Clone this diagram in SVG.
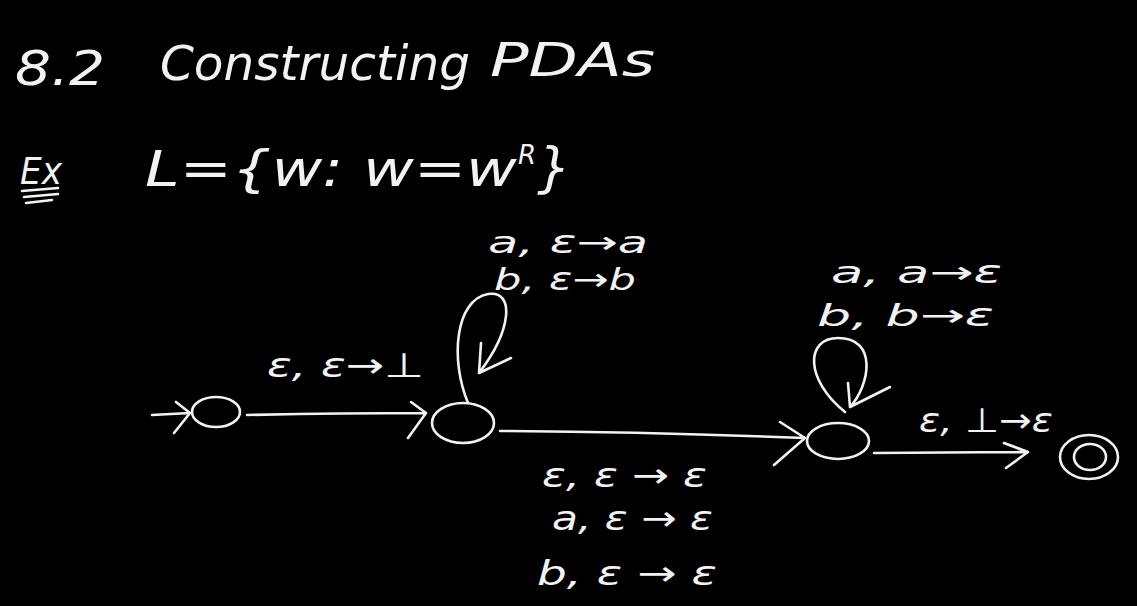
<svg xmlns="http://www.w3.org/2000/svg" width="1137" height="606" viewBox="0 0 1137 606">
<defs>
<style>
.bg{fill:#000}
.t{fill:#f2f2f2;font-family:"DejaVu Sans","Liberation Sans",sans-serif;font-style:italic;font-weight:300}
.lbl{font-size:34px}
.sm{font-size:31px}
.st{fill:none;stroke:#f2f2f2;stroke-width:2.6;stroke-linecap:round;stroke-linejoin:round}
</style>
</defs>
<rect class="bg" x="0" y="0" width="1137" height="606"/>
<g id="title">
<text class="t" x="15" y="85" font-size="48" textLength="90" lengthAdjust="spacingAndGlyphs">8.2</text>
<text class="t" x="160" y="80" font-size="48" textLength="310" lengthAdjust="spacingAndGlyphs">Constructing</text>
<text class="t" x="490" y="76" font-size="46" textLength="165" lengthAdjust="spacingAndGlyphs">PDAs</text>
</g>
<g id="example">
<text class="t" x="20" y="184" font-size="38" textLength="42" lengthAdjust="spacingAndGlyphs">Ex</text>
<path class="st" d="M22 191 L58 188 M24 197 L58 194 M26 203 L52 200" stroke-width="2"/>
<text class="t" x="145" y="186" font-size="50" textLength="372" lengthAdjust="spacingAndGlyphs">L={w:  w=w</text>
<text class="t" x="518" y="164" font-size="26">R</text>
<text class="t" x="537" y="186" font-size="54">}</text>
</g>
<g id="connectors">
<path class="st" d="M152 415 L190 413 M176 402 L190 413 L174 433"/>
<path class="st" d="M247 415 Q340 413 426 413 M411 402 L426 413 L408 438"/>
<path class="st" d="M500 431 Q650 432 805 438 M780 422 L805 438 L774 465"/>
<path class="st" d="M874 453 L1028 452 M1004 443 L1028 452 L1006 468"/>
<path class="st" d="M468 403 C450 360 455 300 488 294 C515 290 512 330 479 373 M481 343 L479 373 L511 358"/>
<path class="st" d="M845 412 C805 380 805 338 838 338 C878 338 870 385 850 407 M848 383 L850 407 L890 387"/>
</g>
<g id="q0"><ellipse class="st" cx="216" cy="412" rx="24" ry="15"/></g>
<g id="q1"><ellipse class="st" cx="463" cy="423" rx="31" ry="20"/></g>
<g id="q2"><ellipse class="st" cx="838" cy="441" rx="31" ry="18"/></g>
<g id="q3"><ellipse class="st" cx="1089" cy="457" rx="29" ry="22"/><ellipse class="st" cx="1090" cy="457" rx="16" ry="13"/></g>
<g id="labels">
<text class="t sm" x="488" y="253" textLength="160" lengthAdjust="spacingAndGlyphs">a, ε→a</text>
<text class="t sm" x="494" y="290" textLength="142" lengthAdjust="spacingAndGlyphs">b, ε→b</text>
<text class="t lbl" x="267" y="377" textLength="157" lengthAdjust="spacingAndGlyphs">ε, ε→⊥</text>
<text class="t sm" x="831" y="283" textLength="171" lengthAdjust="spacingAndGlyphs">a, a→ε</text>
<text class="t sm" x="817" y="326" textLength="177" lengthAdjust="spacingAndGlyphs">b, b→ε</text>
<text class="t lbl" x="919" y="432" textLength="134" lengthAdjust="spacingAndGlyphs">ε, ⊥→ε</text>
<text class="t lbl" x="542" y="487" textLength="165" lengthAdjust="spacingAndGlyphs">ε, ε → ε</text>
<text class="t lbl" x="552" y="530" textLength="161" lengthAdjust="spacingAndGlyphs">a, ε → ε</text>
<text class="t lbl" x="537" y="585" textLength="180" lengthAdjust="spacingAndGlyphs">b, ε → ε</text>
</g>
</svg>
